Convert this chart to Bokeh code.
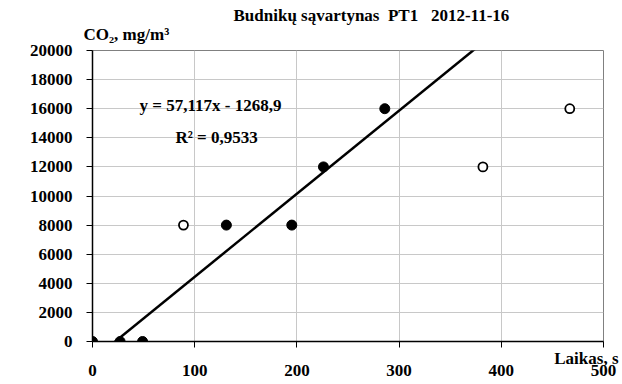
from bokeh.plotting import figure
from bokeh.models import (Label, Range1d, FixedTicker, ColumnDataSource, Title, LinearAxis,
                          CustomLabelingPolicy)
from bokeh.embed import file_html
from bokeh.resources import INLINE

# Data
filled_x = [0, 27, 49, 131, 195, 226, 286]
filled_y = [0, 0, 0, 8000, 8000, 12000, 16000]
open_x = [89, 382, 467]
open_y = [8000, 12000, 16000]
slope = 57.117
intercept = -1268.9
trend_x = [0, 400]
trend_y = [slope * x + intercept for x in trend_x]
x_ticks = [0, 100, 200, 300, 400, 500]
y_ticks = [0, 2000, 4000, 6000, 8000, 10000, 12000, 14000, 16000, 18000, 20000]

FONT = "Liberation Serif"
FS = "17px"
NB = "\u00a0"

W, H = 622, 384
BL, BR, BT, BB = 92, 19, 50, 43

p = figure(width=W, height=H, output_backend="svg", toolbar_location=None,
           x_range=Range1d(0, 500), y_range=Range1d(0, 20000),
           min_border_left=BL, min_border_right=BR, min_border_top=BT, min_border_bottom=BB)
p.background_fill_color = "white"
p.border_fill_color = "white"
p.outline_line_color = "#808080"
p.outline_line_width = 1

p.xgrid.ticker = FixedTicker(ticks=x_ticks)
p.ygrid.ticker = FixedTicker(ticks=y_ticks)
p.xgrid.grid_line_color = "#c8c8c8"
p.ygrid.grid_line_color = "#c8c8c8"

for ax in (p.xaxis[0], p.yaxis[0]):
    ax.axis_line_color = "black"
    ax.axis_line_width = 1.5
    ax.major_tick_line_color = "black"
    ax.major_tick_out = 6
    ax.major_tick_in = 0
    ax.minor_tick_line_color = None
    ax.major_label_text_font = FONT
    ax.major_label_text_font_style = "bold"
    ax.major_label_text_font_size = FS
    ax.major_label_text_color = "black"

p.yaxis[0].ticker = FixedTicker(ticks=y_ticks)
p.yaxis[0].major_label_standoff = 14

# main x axis: line and ticks, no tick labels
xa = p.xaxis[0]
xa.ticker = FixedTicker(ticks=x_ticks)
xa.major_label_text_font_size = "1px"
xa.major_label_standoff = 0
xa.major_label_policy = CustomLabelingPolicy(code="for (const i of indices) { if (i < 0) { yield i } }")

# "Laikas, s" title just below the axis, right aligned
laikas = Title(text="Laikas," + NB + "s", align="right", offset=-15, standoff=-10,
               text_font=FONT, text_font_style="bold", text_font_size=FS, text_color="black")

# second x axis: only the tick labels, below "Laikas, s"
xa2 = LinearAxis(ticker=FixedTicker(ticks=x_ticks), axis_line_color=None,
                 major_tick_line_color=None, minor_tick_line_color=None,
                 major_tick_out=0, major_tick_in=0, major_label_standoff=2,
                 major_label_text_font=FONT, major_label_text_font_style="bold",
                 major_label_text_font_size=FS, major_label_text_color="black")
p.below = [xa, laikas, xa2]

# titles above (the added title sits closer to the frame)
p.title.text = "Budnikų" + NB + "sąvartynas" + NB * 2 + "PT1" + NB * 3 + "2012-11-16"
p.title.align = "left"
p.title.offset = 233 - BL
p.title.standoff = -11
p.title.vertical_align = "bottom"
p.title.text_font = FONT
p.title.text_font_style = "bold"
p.title.text_font_size = FS
p.title.text_color = "black"

p.add_layout(Title(text="CO₂," + NB + "mg/m³", align="left", offset=83 - BL,
                   standoff=10, vertical_align="top", text_font=FONT, text_font_style="bold",
                   text_font_size=FS, text_color="black"), "above")

src = ColumnDataSource(dict(x=trend_x, y=trend_y))
p.line("x", "y", source=src, line_color="black", line_width=2.5)

p.scatter(filled_x, filled_y, size=10, fill_color="black", line_color="black")
p.scatter(open_x, open_y, size=9, fill_color="white", line_color="black", line_width=1.8)

frame_h = H - BT - BB

def lab(px, py, text, align="left"):
    p.add_layout(Label(x=px - BL, y=(BT + frame_h) - py, x_units="screen", y_units="screen",
                       text=text, text_font=FONT, text_font_style="bold", text_font_size=FS,
                       text_color="black", text_align=align, text_baseline="middle"))

lab(139, 105, "y = 57,117x - 1268,9")
lab(175, 137, "R² = 0,9533")

open("out.html", "w").write(file_html(p, INLINE))
